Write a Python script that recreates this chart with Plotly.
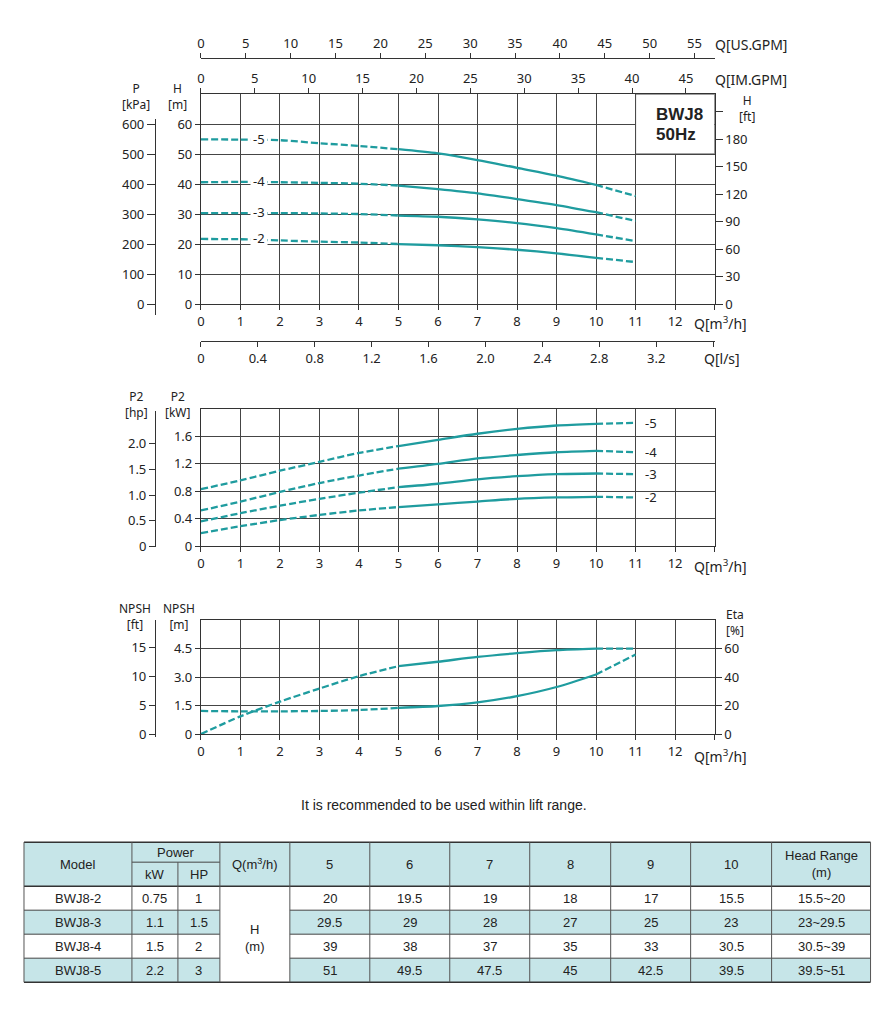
import plotly.graph_objects as go

W, H = 884, 1015

# ---------------- data ----------------
flow = [0, 1, 2, 3, 4, 5, 6, 7, 8, 9, 10, 11]          # Q [m3/h]
stage_names = ["-2", "-3", "-4", "-5"]

# head H [m]
head_2 = [21.7, 21.6, 21.2, 20.8, 20.5, 20.0, 19.6, 19.0, 18.1, 16.9, 15.4, 14.0]
head_3 = [30.3, 30.3, 30.3, 30.2, 30.0, 29.5, 29.1, 28.2, 27.0, 25.3, 23.2, 21.0]
head_4 = [40.6, 40.7, 40.6, 40.4, 40.1, 39.5, 38.3, 36.9, 35.0, 33.0, 30.6, 27.7]
head_5 = [54.9, 54.8, 54.6, 53.6, 52.7, 51.6, 50.2, 48.0, 45.4, 42.8, 39.7, 36.0]

# shaft power P2 [kW]
p2_2 = [0.19, 0.29, 0.38, 0.455, 0.52, 0.57, 0.61, 0.65, 0.69, 0.71, 0.72, 0.71]
p2_3 = [0.36, 0.48, 0.59, 0.69, 0.78, 0.86, 0.91, 0.975, 1.02, 1.05, 1.06, 1.05]
p2_4 = [0.52, 0.65, 0.79, 0.92, 1.03, 1.13, 1.20, 1.28, 1.33, 1.37, 1.39, 1.37]
p2_5 = [0.83, 0.96, 1.10, 1.23, 1.36, 1.46, 1.55, 1.64, 1.71, 1.76, 1.785, 1.80]

# NPSH [m] and efficiency [%]
npsh_m = [1.22, 1.20, 1.20, 1.22, 1.27, 1.38, 1.48, 1.67, 2.00, 2.48, 3.14, 4.19]
eta_pct = [0, 12.5, 22.8, 32.0, 40.7, 47.7, 50.8, 54.2, 56.8, 58.9, 60.0, 60.0]

# tick values of the unit axes
q_ticks = list(range(0, 14))
h_m_ticks = list(range(0, 61, 10))
h_ft_ticks = list(range(0, 211, 30))
kpa_ticks = list(range(0, 601, 100))
imgpm_ticks = list(range(0, 46, 5))
usgpm_ticks = list(range(0, 56, 5))
ls_ticks = [0, 0.4, 0.8, 1.2, 1.6, 2.0, 2.4, 2.8, 3.2, 3.6]
ls_text = ["0", "0.4", "0.8", "1.2", "1.6", "2.0", "2.4", "2.8", "3.2", ""]
kw_ticks = [0, 0.4, 0.8, 1.2, 1.6]
kw_text = ["0", "0.4", "0.8", "1.2", "1.6"]
hp_ticks = [0, 0.5, 1.0, 1.5, 2.0]
hp_text = ["0", "0.5", "1.0", "1.5", "2.0"]
npsh_ticks = [0, 1.5, 3.0, 4.5]
npsh_text = ["0", "1.5", "3.0", "4.5"]
npsh_ft_ticks = [0, 5, 10, 15]
eta_ticks = [0, 20, 40, 60]

# table
tbl_models = ["BWJ8-2", "BWJ8-3", "BWJ8-4", "BWJ8-5"]
tbl_kw = ["0.75", "1.1", "1.5", "2.2"]
tbl_hp = ["1", "1.5", "2", "3"]
tbl_flow = ["5", "6", "7", "8", "9", "10"]
tbl_h_2 = ["20", "19.5", "19", "18", "17", "15.5"]
tbl_h_3 = ["29.5", "29", "28", "27", "25", "23"]
tbl_h_4 = ["39", "38", "37", "35", "33", "30.5"]
tbl_h_5 = ["51", "49.5", "47.5", "45", "42.5", "39.5"]
tbl_range = ["15.5~20", "23~29.5", "30.5~39", "39.5~51"]

# unit conversions
M3H_TO_IMGPM = 3.6662
M3H_TO_USGPM = 4.4029
M3H_TO_LS = 1 / 3.6
M_TO_FT = 1 / 0.3048
KW_TO_HP = 1 / 0.7457

# ---------------- layout helpers (pixel -> paper) ----------------
X_OFF, X_SCALE = 2.0, 0.996
Y_OFF, Y_SCALE = 3.0, 0.987


def xp(px):
    return ((px - X_OFF) / X_SCALE) / W


def yp(py):
    return 1 - ((py - Y_OFF) / Y_SCALE) / H


TEAL = "#1f9c9f"
GRID = "#454545"
LINEC = "#333333"
TXT = "#222222"
BLUE = "#c6e5e8"
TICKF = dict(family="Noto Sans", size=13, color=TXT)
LBLF = dict(family="Noto Sans", size=13, color=TXT)
UNITF = dict(family="Noto Sans", size=12, color=TXT)
TBLF = dict(family="Liberation Sans, Arial", size=13, color=TXT)

fig = go.Figure()


def add_curve(xs, ys, xa, ya):
    for a, b, dash in [(0, 6, "7px,3px"), (5, 11, "solid"), (10, 12, "7px,3px")]:
        fig.add_trace(go.Scatter(
            x=xs[a:b], y=ys[a:b], xaxis=xa, yaxis=ya, mode="lines",
            line=dict(color=TEAL, width=2.3, dash=dash, shape="spline", smoothing=0.8),
            hoverinfo="skip", showlegend=False))


def dummy(xa, ya):
    fig.add_trace(go.Scatter(x=[None], y=[None], xaxis=xa, yaxis=ya, mode="lines",
                             hoverinfo="skip", showlegend=False))


heads = [head_2, head_3, head_4, head_5]
powers = [p2_2, p2_3, p2_4, p2_5]
for hh in heads:
    add_curve(flow, hh, "x", "y")
for pp in powers:
    add_curve(flow, pp, "x5", "y4")
add_curve(flow, npsh_m, "x6", "y6")
add_curve(flow, eta_pct, "x6", "y7")

for xa, ya in [("x2", "y"), ("x3", "y"), ("x4", "y"), ("x", "y2"),
               ("x7", "y3"), ("x7", "y5"), ("x7", "y8")]:
    dummy(xa, ya)

base = dict(showline=True, linecolor=LINEC, linewidth=1, ticks="outside", tickcolor=LINEC,
            tickwidth=1, ticklen=5, tickfont=TICKF, zeroline=False, showgrid=False,
            fixedrange=True)

q_text = [str(v) for v in q_ticks[:-1]] + [""]
xmain = dict(base, domain=[xp(199), xp(713)], range=[0, 13], tickvals=q_ticks,
             ticktext=q_text, showgrid=True, gridcolor=GRID, gridwidth=1, mirror=True)

fig.update_layout(
    width=W, height=H, margin=dict(l=0, r=0, t=0, b=0),
    paper_bgcolor="white", plot_bgcolor="rgba(0,0,0,0)", showlegend=False,
    # ---- top chart ----
    xaxis=dict(xmain, anchor="y"),
    yaxis=dict(base, domain=[yp(303), yp(93)], range=[0, 70], tickvals=h_m_ticks,
               showgrid=True, gridcolor=GRID, mirror=True, anchor="x"),
    yaxis2=dict(base, overlaying="y", side="right", anchor="x", range=[0, 70 * M_TO_FT],
                tickvals=h_ft_ticks, ticktext=[str(v) for v in h_ft_ticks[:-1]] + [""],
                ticklen=7),
    xaxis2=dict(base, overlaying="x", side="top", anchor="y",
                range=[0, 13 * M3H_TO_IMGPM], tickvals=imgpm_ticks, showline=False),
    xaxis3=dict(base, overlaying="x", side="top", anchor="free", position=yp(57),
                range=[0, 13 * M3H_TO_USGPM], tickvals=usgpm_ticks),
    xaxis4=dict(base, overlaying="x", side="bottom", anchor="free", position=yp(340),
                range=[0, 13 * M3H_TO_LS], tickvals=ls_ticks, ticktext=ls_text),
    yaxis3=dict(base, domain=[yp(314), yp(118)], anchor="free", position=xp(153),
                side="left", range=[-(314 - 303) / 0.3, (303 - 118) / 0.3],
                tickvals=kpa_ticks, ticklen=8),
    xaxis7=dict(visible=False, domain=[0, 1], range=[0, 1], anchor="y3", fixedrange=True),
    # ---- middle chart ----
    xaxis5=dict(xmain, anchor="y4"),
    yaxis4=dict(base, domain=[yp(545), yp(408)], range=[0, 2.0], tickvals=kw_ticks,
                ticktext=kw_text, showgrid=True, gridcolor=GRID, mirror=True, anchor="x5"),
    yaxis5=dict(base, domain=[yp(546), yp(410)], anchor="free", position=xp(153),
                side="left", range=[-1 / (68.5 / KW_TO_HP), 135 / (68.5 / KW_TO_HP)],
                tickvals=hp_ticks, ticktext=hp_text, ticklen=6),
    # ---- bottom chart ----
    xaxis6=dict(xmain, anchor="y6"),
    yaxis6=dict(base, domain=[yp(733), yp(619)], range=[0, 6], tickvals=npsh_ticks,
                ticktext=npsh_text, showgrid=True, gridcolor=GRID, mirror=True, anchor="x6"),
    yaxis7=dict(base, overlaying="y6", side="right", anchor="x6", range=[0, 80],
                tickvals=eta_ticks, ticklen=6),
    yaxis8=dict(base, domain=[yp(736), yp(619)], anchor="free", position=xp(153),
                side="left", range=[-3 / (19 / M_TO_FT), 114 / (19 / M_TO_FT)],
                tickvals=npsh_ft_ticks, ticklen=6),
)

shapes = []
annos = []


def ann(text, px, py, font=LBLF, xanchor="center", **kw):
    annos.append(dict(text=text, x=xp(px), y=yp(py), xref="paper", yref="paper",
                      showarrow=False, xanchor=xanchor, yanchor="middle", font=font, **kw))


# model box
shapes.append(dict(type="rect", xref="x", yref="y", x0=11, x1=13, y0=50, y1=70,
                   fillcolor="white", line=dict(color=GRID, width=1), layer="above"))
BOXF = dict(family="Liberation Sans, Arial", size=17, color=TXT)
ann("<b>BWJ8</b>", 652, 113, font=BOXF, xanchor="left")
ann("<b>50Hz</b>", 652, 133, font=BOXF, xanchor="left")

# stage labels, top chart
for name, hh in zip(stage_names, heads):
    annos.append(dict(text=name, x=1.46, y=hh[1], xref="x", yref="y", yshift=1,
                      showarrow=False, font=LBLF, bgcolor="white", borderpad=2))
# stage labels, middle chart
for name, pp in zip(stage_names, powers):
    annos.append(dict(text=name, x=11.2, y=pp[-1], xref="x5", yref="y4", xanchor="left",
                      showarrow=False, font=LBLF))

# axis titles
QF = dict(family="Noto Sans", size=14, color=TXT)
ann("Q[US.GPM]", 711, 43, font=QF, xanchor="left")
ann("Q[IM.GPM]", 711, 78, font=QF, xanchor="left")
ann("Q[m<sup>3</sup>/h]", 690, 322, font=QF, xanchor="left")
ann("Q[l/s]", 700, 357, font=QF, xanchor="left")
ann("Q[m<sup>3</sup>/h]", 690, 565, font=QF, xanchor="left")
ann("Q[m<sup>3</sup>/h]", 690, 755, font=QF, xanchor="left")
ann("P<br>[kPa]", 134, 95, font=UNITF)
ann("H<br>[m]", 176, 95, font=UNITF)
ann("H<br>[ft]", 745, 107, font=UNITF)
ann("P2<br>[hp]", 135, 403, font=UNITF)
ann("P2<br>[kW]", 176, 403, font=UNITF)
ann("NPSH<br>[ft]", 133, 615, font=UNITF)
ann("NPSH<br>[m]", 177, 615, font=UNITF)
ann("Eta<br>[%]", 733, 621, font=UNITF)

ann("It is recommended to be used within lift range.", 442, 804,
    font=dict(family="Liberation Sans, Arial", size=14, color=TXT))

# ---------------- table ----------------
cols = [22, 130, 176, 218, 288, 368, 448, 528, 609, 689, 770, 869]
rows = [841, 885, 909, 933, 957, 981]
power_split = 861


def rect(x0, x1, y0, y1, fill):
    shapes.append(dict(type="rect", xref="paper", yref="paper", x0=xp(x0), x1=xp(x1),
                       y0=yp(y1), y1=yp(y0), fillcolor=fill, line=dict(width=0), layer="below"))


def hline(x0, x1, y, w=1, c="#444"):
    shapes.append(dict(type="line", xref="paper", yref="paper", x0=xp(x0), x1=xp(x1),
                       y0=yp(y), y1=yp(y), line=dict(color=c, width=w)))


def vline(x, y0, y1, w=1, c="#555"):
    shapes.append(dict(type="line", xref="paper", yref="paper", x0=xp(x), x1=xp(x),
                       y0=yp(y0), y1=yp(y1), line=dict(color=c, width=w)))


rect(cols[0], cols[-1], rows[0], rows[1], BLUE)
for i in range(4):
    if i % 2 == 1:
        rect(cols[0], cols[3], rows[i + 1], rows[i + 2], BLUE)
        rect(cols[4], cols[-1], rows[i + 1], rows[i + 2], BLUE)

hline(cols[0], cols[-1], rows[0], 1.5, "#333")
hline(cols[0], cols[-1], rows[1], 1.5, "#333")
hline(cols[0], cols[-1], rows[-1], 1.5, "#333")
for r in rows[2:-1]:
    hline(cols[0], cols[3], r)
    hline(cols[4], cols[-1], r)
hline(cols[1], cols[3], power_split)
for j, c in enumerate(cols):
    vline(c, power_split if j == 2 else rows[0], rows[-1])

mid = lambda a, b: (a + b) / 2
ann("Model", mid(cols[0], cols[1]), mid(rows[0], rows[1]), font=TBLF)
ann("Power", mid(cols[1], cols[3]), mid(rows[0], power_split), font=TBLF)
ann("kW", mid(cols[1], cols[2]), mid(power_split, rows[1]), font=TBLF)
ann("HP", mid(cols[2], cols[3]), mid(power_split, rows[1]), font=TBLF)
ann("Q(m<sup>3</sup>/h)", mid(cols[3], cols[4]), mid(rows[0], rows[1]), font=TBLF)
for k, f in enumerate(tbl_flow):
    ann(f, mid(cols[4 + k], cols[5 + k]), mid(rows[0], rows[1]), font=TBLF)
ann("Head Range<br>(m)", mid(cols[10], cols[11]), mid(rows[0], rows[1]), font=TBLF)
ann("H<br>(m)", mid(cols[3], cols[4]), mid(rows[1], rows[-1]) + 4, font=TBLF)

tbl_heads = [tbl_h_2, tbl_h_3, tbl_h_4, tbl_h_5]
for i in range(4):
    yc = mid(rows[i + 1], rows[i + 2])
    ann(tbl_models[i], mid(cols[0], cols[1]), yc, font=TBLF)
    ann(tbl_kw[i], mid(cols[1], cols[2]), yc, font=TBLF)
    ann(tbl_hp[i], mid(cols[2], cols[3]), yc, font=TBLF)
    for k, v in enumerate(tbl_heads[i]):
        ann(v, mid(cols[4 + k], cols[5 + k]), yc, font=TBLF)
    ann(tbl_range[i], mid(cols[10], cols[11]), yc, font=TBLF)

fig.update_layout(shapes=shapes, annotations=annos)
fig.write_html(
    "out.html",
    config={"displayModeBar": False},
    post_script="document.body.style.margin='0';document.body.style.overflow='hidden';",
)
